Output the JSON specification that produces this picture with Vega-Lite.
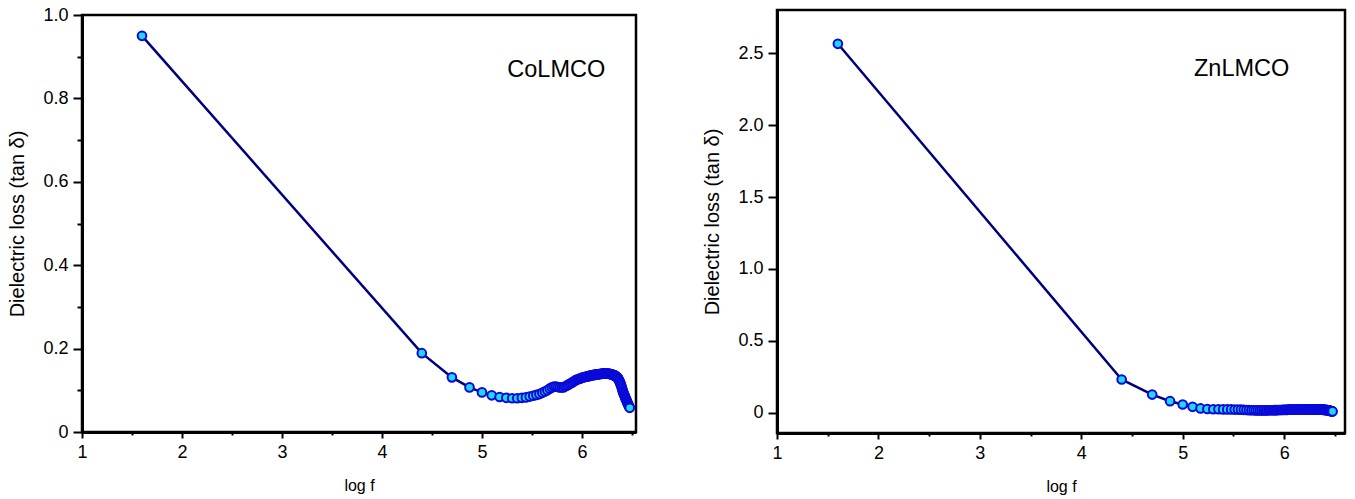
{
 "$schema": "https://vega.github.io/schema/vega-lite/v6.json",
 "background": "white",
 "padding": {"left": 6, "top": 4, "right": 2, "bottom": 2},
 "spacing": 61,
 "config": {
  "font": "Liberation Sans",
  "view": {"stroke": "black", "strokeWidth": 2.5},
  "axis": {"grid": false, "domainColor": "black", "domainWidth": 3, "tickColor": "black", "tickWidth": 2, "labelFontSize": 18, "labelColor": "black", "labelFont": "Liberation Sans", "titleFont": "Liberation Sans", "titleFontWeight": "normal", "titleColor": "black", "labelOverlap": false, "labelFlush": false},
  "axisX": {"labelPadding": 5, "titlePadding": 16, "titleFontSize": 16},
  "axisY": {"labelPadding": 5, "titlePadding": 15, "titleFontSize": 20}
 },
 "datasets": {
  "co": [
   {"logf": 1.6, "tan": 0.950}, {"logf": 4.398, "tan": 0.189}, {"logf": 4.699, "tan": 0.131}, {"logf": 4.875, "tan": 0.107}, {"logf": 5.0, "tan": 0.095}, {"logf": 5.097, "tan": 0.088}, {"logf": 5.176, "tan": 0.084}, {"logf": 5.243, "tan": 0.082}, {"logf": 5.301, "tan": 0.081}, {"logf": 5.352, "tan": 0.081}, {"logf": 5.398, "tan": 0.082}, {"logf": 5.439, "tan": 0.083}, {"logf": 5.477, "tan": 0.085}, {"logf": 5.512, "tan": 0.087}, {"logf": 5.544, "tan": 0.089}, {"logf": 5.574, "tan": 0.091}, {"logf": 5.602, "tan": 0.094}, {"logf": 5.628, "tan": 0.097}, {"logf": 5.653, "tan": 0.100}, {"logf": 5.677, "tan": 0.104}, {"logf": 5.699, "tan": 0.107}, {"logf": 5.720, "tan": 0.109}, {"logf": 5.740, "tan": 0.109}, {"logf": 5.760, "tan": 0.108}, {"logf": 5.778, "tan": 0.107}, {"logf": 5.796, "tan": 0.107}, {"logf": 5.813, "tan": 0.107}, {"logf": 5.829, "tan": 0.109}, {"logf": 5.845, "tan": 0.111}, {"logf": 5.860, "tan": 0.113}, {"logf": 5.875, "tan": 0.115}, {"logf": 5.889, "tan": 0.117}, {"logf": 5.903, "tan": 0.119}, {"logf": 5.917, "tan": 0.121}, {"logf": 5.929, "tan": 0.123}, {"logf": 5.942, "tan": 0.125}, {"logf": 5.954, "tan": 0.126}, {"logf": 5.966, "tan": 0.127}, {"logf": 5.978, "tan": 0.128}, {"logf": 5.989, "tan": 0.129}, {"logf": 6.0, "tan": 0.130},
   {"logf": 6.0107, "tan": 0.131}, {"logf": 6.0212, "tan": 0.132}, {"logf": 6.0314, "tan": 0.132}, {"logf": 6.0414, "tan": 0.133}, {"logf": 6.0512, "tan": 0.133}, {"logf": 6.0607, "tan": 0.134}, {"logf": 6.0700, "tan": 0.134}, {"logf": 6.0792, "tan": 0.135}, {"logf": 6.0881, "tan": 0.135}, {"logf": 6.0969, "tan": 0.136}, {"logf": 6.1055, "tan": 0.136}, {"logf": 6.1139, "tan": 0.137}, {"logf": 6.1222, "tan": 0.137}, {"logf": 6.1303, "tan": 0.137}, {"logf": 6.1383, "tan": 0.138}, {"logf": 6.1461, "tan": 0.138}, {"logf": 6.1538, "tan": 0.138}, {"logf": 6.1614, "tan": 0.138}, {"logf": 6.1688, "tan": 0.139}, {"logf": 6.1761, "tan": 0.139}, {"logf": 6.1833, "tan": 0.139}, {"logf": 6.1903, "tan": 0.139}, {"logf": 6.1973, "tan": 0.140}, {"logf": 6.2041, "tan": 0.140}, {"logf": 6.2109, "tan": 0.140}, {"logf": 6.2175, "tan": 0.140}, {"logf": 6.2240, "tan": 0.140}, {"logf": 6.2304, "tan": 0.140}, {"logf": 6.2368, "tan": 0.140}, {"logf": 6.2430, "tan": 0.140}, {"logf": 6.2492, "tan": 0.140}, {"logf": 6.2553, "tan": 0.140}, {"logf": 6.2613, "tan": 0.140}, {"logf": 6.2672, "tan": 0.140}, {"logf": 6.2730, "tan": 0.139}, {"logf": 6.2788, "tan": 0.139}, {"logf": 6.2844, "tan": 0.139}, {"logf": 6.2900, "tan": 0.139}, {"logf": 6.2956, "tan": 0.138}, {"logf": 6.3010, "tan": 0.138}, {"logf": 6.3064, "tan": 0.137}, {"logf": 6.3118, "tan": 0.137}, {"logf": 6.3170, "tan": 0.136}, {"logf": 6.3222, "tan": 0.136}, {"logf": 6.3274, "tan": 0.135}, {"logf": 6.3324, "tan": 0.135}, {"logf": 6.3375, "tan": 0.134}, {"logf": 6.3424, "tan": 0.133}, {"logf": 6.3473, "tan": 0.132}, {"logf": 6.3522, "tan": 0.131}, {"logf": 6.3570, "tan": 0.130}, {"logf": 6.3617, "tan": 0.128}, {"logf": 6.3664, "tan": 0.126}, {"logf": 6.3711, "tan": 0.124}, {"logf": 6.3757, "tan": 0.121}, {"logf": 6.3802, "tan": 0.119}, {"logf": 6.3847, "tan": 0.116}, {"logf": 6.3892, "tan": 0.113}, {"logf": 6.3936, "tan": 0.110}, {"logf": 6.3979, "tan": 0.106}, {"logf": 6.4023, "tan": 0.103}, {"logf": 6.4065, "tan": 0.099}, {"logf": 6.4108, "tan": 0.096}, {"logf": 6.4150, "tan": 0.093}, {"logf": 6.4191, "tan": 0.091}, {"logf": 6.4232, "tan": 0.088}, {"logf": 6.4273, "tan": 0.086}, {"logf": 6.4314, "tan": 0.083}, {"logf": 6.4354, "tan": 0.081}, {"logf": 6.4393, "tan": 0.079}, {"logf": 6.4433, "tan": 0.077}, {"logf": 6.4472, "tan": 0.074}, {"logf": 6.4510, "tan": 0.072}, {"logf": 6.4548, "tan": 0.070}, {"logf": 6.4586, "tan": 0.068}, {"logf": 6.4624, "tan": 0.066}, {"logf": 6.4661, "tan": 0.064}, {"logf": 6.4698, "tan": 0.062}, {"logf": 6.4735, "tan": 0.060}, {"logf": 6.4771, "tan": 0.058}
  ],
  "zn": [
   {"logf": 1.6, "tan": 2.565}, {"logf": 4.398, "tan": 0.232}, {"logf": 4.699, "tan": 0.127}, {"logf": 4.875, "tan": 0.081}, {"logf": 5.0, "tan": 0.058}, {"logf": 5.097, "tan": 0.042}, {"logf": 5.176, "tan": 0.031}, {"logf": 5.243, "tan": 0.027}, {"logf": 5.301, "tan": 0.025}, {"logf": 5.352, "tan": 0.025}, {"logf": 5.398, "tan": 0.024}, {"logf": 5.439, "tan": 0.024}, {"logf": 5.477, "tan": 0.024}, {"logf": 5.512, "tan": 0.023}, {"logf": 5.544, "tan": 0.023}, {"logf": 5.574, "tan": 0.022}, {"logf": 5.602, "tan": 0.021}, {"logf": 5.628, "tan": 0.020}, {"logf": 5.653, "tan": 0.019}, {"logf": 5.677, "tan": 0.018}, {"logf": 5.699, "tan": 0.018}, {"logf": 5.720, "tan": 0.017}, {"logf": 5.740, "tan": 0.017}, {"logf": 5.760, "tan": 0.017}, {"logf": 5.778, "tan": 0.017}, {"logf": 5.796, "tan": 0.017}, {"logf": 5.813, "tan": 0.017}, {"logf": 5.829, "tan": 0.017}, {"logf": 5.845, "tan": 0.018}, {"logf": 5.860, "tan": 0.018}, {"logf": 5.875, "tan": 0.018}, {"logf": 5.889, "tan": 0.018}, {"logf": 5.903, "tan": 0.019}, {"logf": 5.917, "tan": 0.019}, {"logf": 5.929, "tan": 0.019}, {"logf": 5.942, "tan": 0.020}, {"logf": 5.954, "tan": 0.020}, {"logf": 5.966, "tan": 0.020}, {"logf": 5.978, "tan": 0.020}, {"logf": 5.989, "tan": 0.021}, {"logf": 6.0, "tan": 0.021},
   {"logf": 6.0107, "tan": 0.021}, {"logf": 6.0212, "tan": 0.021}, {"logf": 6.0314, "tan": 0.021}, {"logf": 6.0414, "tan": 0.022}, {"logf": 6.0512, "tan": 0.022}, {"logf": 6.0607, "tan": 0.022}, {"logf": 6.0700, "tan": 0.022}, {"logf": 6.0792, "tan": 0.022}, {"logf": 6.0881, "tan": 0.023}, {"logf": 6.0969, "tan": 0.023}, {"logf": 6.1055, "tan": 0.023}, {"logf": 6.1139, "tan": 0.023}, {"logf": 6.1222, "tan": 0.023}, {"logf": 6.1303, "tan": 0.023}, {"logf": 6.1383, "tan": 0.023}, {"logf": 6.1461, "tan": 0.023}, {"logf": 6.1538, "tan": 0.023}, {"logf": 6.1614, "tan": 0.023}, {"logf": 6.1688, "tan": 0.024}, {"logf": 6.1761, "tan": 0.024}, {"logf": 6.1833, "tan": 0.024}, {"logf": 6.1903, "tan": 0.024}, {"logf": 6.1973, "tan": 0.024}, {"logf": 6.2041, "tan": 0.024}, {"logf": 6.2109, "tan": 0.024}, {"logf": 6.2175, "tan": 0.024}, {"logf": 6.2240, "tan": 0.024}, {"logf": 6.2304, "tan": 0.024}, {"logf": 6.2368, "tan": 0.024}, {"logf": 6.2430, "tan": 0.024}, {"logf": 6.2492, "tan": 0.024}, {"logf": 6.2553, "tan": 0.024}, {"logf": 6.2613, "tan": 0.024}, {"logf": 6.2672, "tan": 0.024}, {"logf": 6.2730, "tan": 0.024}, {"logf": 6.2788, "tan": 0.024}, {"logf": 6.2844, "tan": 0.023}, {"logf": 6.2900, "tan": 0.023}, {"logf": 6.2956, "tan": 0.023}, {"logf": 6.3010, "tan": 0.023}, {"logf": 6.3064, "tan": 0.023}, {"logf": 6.3118, "tan": 0.023}, {"logf": 6.3170, "tan": 0.023}, {"logf": 6.3222, "tan": 0.023}, {"logf": 6.3274, "tan": 0.023}, {"logf": 6.3324, "tan": 0.023}, {"logf": 6.3375, "tan": 0.023}, {"logf": 6.3424, "tan": 0.023}, {"logf": 6.3473, "tan": 0.022}, {"logf": 6.3522, "tan": 0.022}, {"logf": 6.3570, "tan": 0.022}, {"logf": 6.3617, "tan": 0.022}, {"logf": 6.3664, "tan": 0.022}, {"logf": 6.3711, "tan": 0.022}, {"logf": 6.3757, "tan": 0.022}, {"logf": 6.3802, "tan": 0.022}, {"logf": 6.3847, "tan": 0.021}, {"logf": 6.3892, "tan": 0.021}, {"logf": 6.3936, "tan": 0.021}, {"logf": 6.3979, "tan": 0.021}, {"logf": 6.4023, "tan": 0.021}, {"logf": 6.4065, "tan": 0.021}, {"logf": 6.4108, "tan": 0.020}, {"logf": 6.4150, "tan": 0.020}, {"logf": 6.4191, "tan": 0.020}, {"logf": 6.4232, "tan": 0.019}, {"logf": 6.4273, "tan": 0.019}, {"logf": 6.4314, "tan": 0.018}, {"logf": 6.4354, "tan": 0.018}, {"logf": 6.4393, "tan": 0.017}, {"logf": 6.4433, "tan": 0.016}, {"logf": 6.4472, "tan": 0.015}, {"logf": 6.4510, "tan": 0.015}, {"logf": 6.4548, "tan": 0.014}, {"logf": 6.4586, "tan": 0.013}, {"logf": 6.4624, "tan": 0.012}, {"logf": 6.4661, "tan": 0.012}, {"logf": 6.4698, "tan": 0.011}, {"logf": 6.4735, "tan": 0.011}, {"logf": 6.4771, "tan": 0.010}
  ]
 },
 "hconcat": [
  {
   "spacing": 4,
   "bounds": "flush",
   "vconcat": [
    {
     "width": 554,
     "height": 1,
     "view": {"stroke": null},
     "data": {"values": []},
     "mark": "point"
    },
    {
     "width": 554,
     "height": 417,
     "layer": [
      {
       "data": {"name": "co"},
       "mark": {"type": "line", "color": "#00007f", "strokeWidth": 2.5},
       "encoding": {
        "x": {"field": "logf", "type": "quantitative", "scale": {"domain": [1, 6.54], "nice": false, "zero": false},
          "axis": {"title": "log f", "values": [1, 1.5, 2, 2.5, 3, 3.5, 4, 4.5, 5, 5.5, 6, 6.5],
            "labelExpr": "datum.value % 1 === 0 ? format(datum.value, 'd') : ''",
            "tickSize": {"condition": {"test": "datum.value % 1 === 0", "value": 6}, "value": 3}}},
        "y": {"field": "tan", "type": "quantitative", "scale": {"domain": [0, 1], "nice": false, "zero": false},
          "axis": {"title": "Dielectric loss (tan δ)", "values": [0, 0.1, 0.2, 0.3, 0.4, 0.5, 0.6, 0.7, 0.8, 0.9, 1.0],
            "labelExpr": "round(datum.value * 10) % 2 === 0 ? (datum.value === 0 ? '0' : format(datum.value, '.1f')) : ''",
            "tickSize": {"condition": {"test": "round(datum.value * 10) % 2 === 0", "value": 9}, "value": 5}}}
       }
      },
      {
       "data": {"name": "co"},
       "mark": {"type": "point", "filled": true, "fill": "#22d8f8", "stroke": "#0a0ad8", "strokeWidth": 2, "size": 75, "opacity": 1},
       "encoding": {
        "x": {"field": "logf", "type": "quantitative"},
        "y": {"field": "tan", "type": "quantitative"}
       }
      },
      {
       "data": {"values": [{"label": "CoLMCO"}]},
       "mark": {"type": "text", "fontSize": 23.5, "baseline": "alphabetic", "align": "center", "color": "black"},
       "encoding": {
        "x": {"datum": 5.743, "type": "quantitative"},
        "y": {"datum": 0.852, "type": "quantitative"},
        "text": {"field": "label"}
       }
      }
     ]
    }
   ]
  },
  {
   "width": 568,
   "height": 423,
   "layer": [
    {
     "data": {"name": "zn"},
     "mark": {"type": "line", "color": "#00007f", "strokeWidth": 2.5},
     "encoding": {
      "x": {"field": "logf", "type": "quantitative", "scale": {"domain": [1, 6.6], "nice": false, "zero": false},
        "axis": {"title": "log f", "values": [1, 1.5, 2, 2.5, 3, 3.5, 4, 4.5, 5, 5.5, 6, 6.5],
          "labelExpr": "datum.value % 1 === 0 ? format(datum.value, 'd') : ''",
          "tickSize": {"condition": {"test": "datum.value % 1 === 0", "value": 6}, "value": 3}}},
      "y": {"field": "tan", "type": "quantitative", "scale": {"domain": [-0.14, 2.8], "nice": false, "zero": false},
        "axis": {"title": "Dielectric loss (tan δ)", "values": [0, 0.25, 0.5, 0.75, 1, 1.25, 1.5, 1.75, 2, 2.25, 2.5, 2.75],
          "labelExpr": "round(datum.value * 4) % 2 === 0 ? (datum.value === 0 ? '0' : format(datum.value, '.1f')) : ''",
          "tickSize": {"condition": {"test": "round(datum.value * 4) % 2 === 0", "value": 9}, "value": 5}}}
     }
    },
    {
     "data": {"name": "zn"},
     "mark": {"type": "point", "filled": true, "fill": "#22d8f8", "stroke": "#0a0ad8", "strokeWidth": 2, "size": 75, "opacity": 1},
     "encoding": {
      "x": {"field": "logf", "type": "quantitative"},
      "y": {"field": "tan", "type": "quantitative"}
     }
    },
    {
     "data": {"values": [{"label": "ZnLMCO"}]},
     "mark": {"type": "text", "fontSize": 23.5, "baseline": "alphabetic", "align": "center", "color": "black"},
     "encoding": {
      "x": {"datum": 5.581, "type": "quantitative"},
      "y": {"datum": 2.344, "type": "quantitative"},
      "text": {"field": "label"}
     }
    }
   ]
  }
 ]
}
